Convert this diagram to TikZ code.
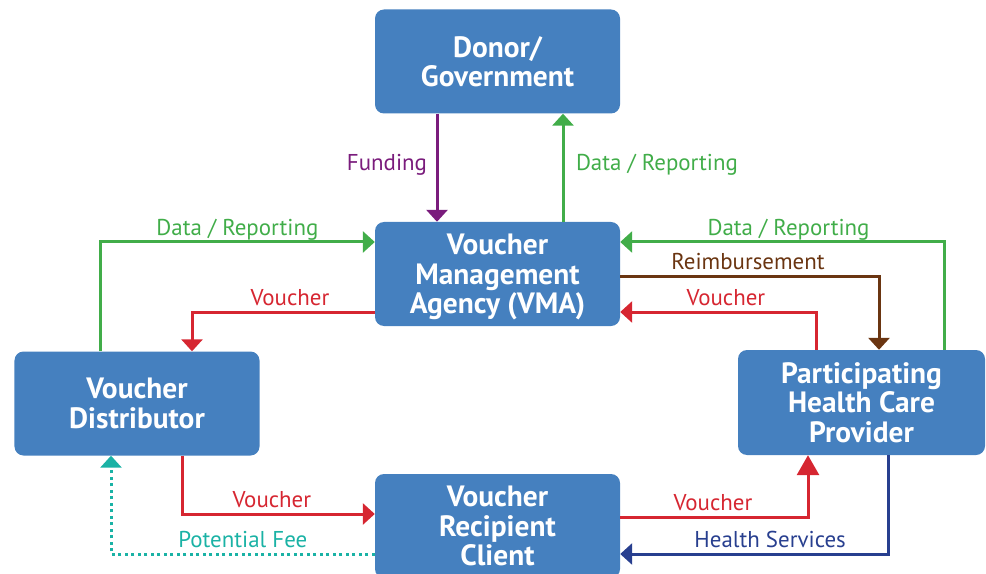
\documentclass[tikz,border=0pt]{standalone}
\usepackage{fontspec}
\setmainfont{PT Sans}
\usepackage{tikz}
\usetikzlibrary{arrows.meta}
\definecolor{boxblue}{HTML}{4580BF}
\definecolor{flowgreen}{HTML}{41AD49}
\definecolor{flowred}{HTML}{D62631}
\definecolor{flowpurple}{HTML}{7A1C7C}
\definecolor{flowbrown}{HTML}{6A3511}
\definecolor{flowteal}{HTML}{1AB2A5}
\definecolor{flownavy}{HTML}{283F8F}
\begin{document}
\begin{tikzpicture}
    [x=1bp,y=-1bp, line join=miter,
     party/.style={fill=boxblue, rounded corners=9bp, text=white, align=center,
        minimum width=245bp, minimum height=104bp, inner sep=0pt,
        font=\fontsize{29.5}{29.5}\selectfont\bfseries},
     flow/.style={line width=3bp, -{Triangle[length=12bp,width=21bp]}},
     lbl/.style={font=\fontsize{23}{25}\selectfont, inner sep=0.5bp},
     over/.style={anchor=base, yshift=6.5bp}]
%clip to the reference frame
\useasboundingbox (0,0) rectangle (986,574);
\clip (0,0) rectangle (986,574);
%the five parties
\node[party] (donor) at (497.5,61.5) {Donor/\\Government};
\node[party, text depth=-1bp] (vma) at (497.5,274) {Voucher\\Management\\Agency (VMA)};
\node[party] (dist) at (137,403.5) {Voucher\\Distributor};
\node[party, minimum width=247bp, minimum height=105bp] (prov) at (861.5,402.5) {Participating\\Health Care\\Provider};
\node[party] (client) at (497.5,526) {Voucher\\Recipient\\Client};
%donor and vma
\draw[flow, flowpurple] ([xshift=-60.5bp]donor.south) -- ([xshift=-60.5bp]vma.north)
    node[lbl, pos=0.47, left=8bp, text=flowpurple] (funding) {Funding};
\draw[flow, flowgreen] ([xshift=65.5bp]vma.north) -- ([xshift=65.5bp]donor.south)
    node[lbl, pos=0.53, right=11bp, text=flowgreen] (datatop) {Data / Reporting};
%distributor side
\draw[flow, flowgreen] ([xshift=-37bp]dist.north) |- ([yshift=32bp]vma.west)
    node[lbl, pos=0.75, over, text=flowgreen] (dataleft) {Data / Reporting};
\draw[flow, flowred] ([yshift=-38bp]vma.west) -| ([xshift=55bp]dist.north)
    node[lbl, pos=0.232, over, text=flowred] (vouchdist) {Voucher};
%provider side
\draw[flow, flowgreen] ([xshift=82.5bp]prov.north) |- ([yshift=32bp]vma.east)
    node[lbl, pos=0.74, over, text=flowgreen] (dataright) {Data / Reporting};
\draw[flow, flowbrown] ([yshift=-2bp]vma.east) -| ([xshift=17.5bp]prov.north)
    node[lbl, pos=0.247, over, text=flowbrown] (reimb) {Reimbursement};
\draw[flow, flowred] ([xshift=-45.5bp]prov.north) |- ([yshift=-38bp]vma.east)
    node[lbl, pos=0.73, over, text=flowred] (vouchprov) {Voucher};
%client
\draw[flow, flowred] ([xshift=45bp]dist.south) |- ([yshift=12bp]client.west)
    node[lbl, pos=0.733, over, text=flowred] (vouchclient) {Voucher};
\draw[flow, flowteal, dotted, line cap=butt, dash pattern=on 3bp off 3.5bp] ([yshift=-28bp]client.west) -| ([xshift=-26bp]dist.south)
    node[lbl, pos=0.25, over, text=flowteal] (fee) {Potential Fee};
\draw[flow, flowred, -{Triangle[length=20bp,width=22bp]}] ([yshift=9bp]client.east) -| ([xshift=-53.5bp]prov.south)
    node[lbl, pos=0.247, over, text=flowred] (vouchback) {Voucher};
\draw[flow, flownavy] ([xshift=26.5bp]prov.south) |- ([yshift=-28bp]client.east)
    node[lbl, pos=0.72, over, text=flownavy] (health) {Health Services};
\end{tikzpicture}
\end{document}
